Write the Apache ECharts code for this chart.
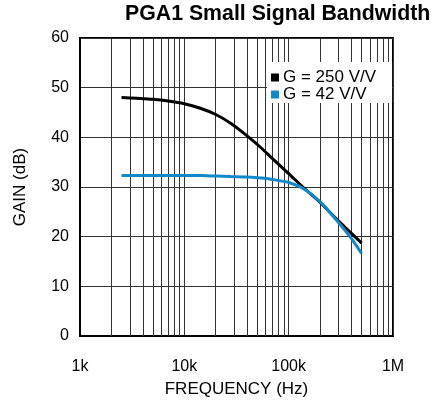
<!DOCTYPE html>
<html>
<head>
<meta charset="utf-8">
<script src="https://cdn.jsdelivr.net/npm/echarts@6/dist/echarts.min.js"></script>
<style>
html,body{margin:0;padding:0;background:#fff;}
#chart{width:435px;height:403px;}
</style>
</head>
<body>
<div id="chart"></div>
<script>
// Frequencies (Hz)
var freq = [2500, 3500, 5000, 7000, 10000, 14000, 20000, 28000, 40000, 55000, 70000, 100000, 140000, 200000, 280000, 400000, 500000];
// Gain (dB) for G = 250 V/V
var gain250 = [48.0, 47.85, 47.65, 47.3, 46.75, 45.9, 44.6, 42.8, 40.3, 37.8, 35.7, 32.7, 29.8, 26.9, 23.8, 20.65, 18.7];
// Gain (dB) for G = 42 V/V
var gain42 = [32.3, 32.3, 32.3, 32.3, 32.3, 32.3, 32.2, 32.1, 32.0, 31.8, 31.5, 30.9, 29.6, 27.0, 23.6, 19.6, 16.6];
var seriesNames = ['G = 250 V/V', 'G = 42 V/V'];
var xTickValues = [1000, 10000, 100000, 1000000];
var xTickLabels = ['1k', '10k', '100k', '1M'];
var yTicks = [0, 10, 20, 30, 40, 50, 60];

// minor log gridlines 2..9 in each decade
var minorLines = [];
for (var d = 1000; d < 1000000; d *= 10) {
  for (var m = 2; m <= 9; m++) minorLines.push({ xAxis: m * d });
}

function pairs(xs, ys) { return xs.map(function (x, i) { return [x, ys[i]]; }); }

var FONT = '"Liberation Sans", Arial, Helvetica, sans-serif';
var chart = echarts.init(document.getElementById('chart'), null, { renderer: 'canvas' });
chart.setOption({
  animation: false,
  backgroundColor: '#fff',
  title: {
    text: 'PGA1 Small Signal Bandwidth',
    left: 125, top: 4, padding: 0,
    textStyle: { fontFamily: FONT, fontSize: 21.3, fontWeight: 'bold', color: '#000' }
  },
  legend: {
    data: seriesNames,
    orient: 'vertical',
    left: 267, top: 62,
    padding: [7, 16, 0, 4],
    itemGap: 0,
    itemWidth: 8, itemHeight: 8,
    icon: 'rect',
    backgroundColor: '#fff',
    textStyle: { fontFamily: FONT, fontSize: 17, color: '#000', lineHeight: 15, padding: [0, 0, 0, -1] },
    z: 10
  },
  grid: {
    left: 80, right: 42, top: 38, bottom: 66,
    show: true, borderColor: '#000', borderWidth: 2
  },
  xAxis: {
    type: 'log', logBase: 10, min: 1000, max: 1000000,
    name: 'FREQUENCY (Hz)', nameLocation: 'middle', nameGap: 45,
    nameTextStyle: { fontFamily: FONT, fontSize: 17, color: '#000' },
    axisLine: { show: true, lineStyle: { color: '#000', width: 2 } },
    axisTick: { show: false },
    axisLabel: {
      fontFamily: FONT, fontSize: 16, color: '#000', margin: 23,
      formatter: function (v) {
        var i = xTickValues.indexOf(Math.round(v));
        return i >= 0 ? xTickLabels[i] : '';
      }
    },
    splitLine: { show: true, lineStyle: { color: '#333', width: 1 } }
  },
  yAxis: {
    type: 'value', min: yTicks[0], max: yTicks[yTicks.length - 1], interval: 10,
    name: 'GAIN (dB)', nameLocation: 'middle', nameGap: 51,
    nameTextStyle: { fontFamily: FONT, fontSize: 17, color: '#000' },
    axisLine: { show: true, lineStyle: { color: '#000', width: 2 } },
    axisTick: { show: false },
    axisLabel: { fontFamily: FONT, fontSize: 16, color: '#000', margin: 11 },
    splitLine: { show: true, lineStyle: { color: '#333', width: 1 } }
  },
  series: [
    {
      name: 'gridMinor', type: 'line', data: [], z: 1, silent: true,
      markLine: {
        silent: true, symbol: 'none', animation: false,
        label: { show: false },
        lineStyle: { color: '#333', width: 1, type: 'solid' },
        emphasis: { disabled: true },
        data: minorLines
      }
    },
    {
      name: seriesNames[0], type: 'line', z: 5,
      data: pairs(freq, gain250),
      smooth: 0.3, showSymbol: false, symbol: 'none',
      itemStyle: { color: '#000' },
      lineStyle: { color: '#000', width: 3 }
    },
    {
      name: seriesNames[1], type: 'line', z: 6,
      data: pairs(freq, gain42),
      smooth: 0.3, showSymbol: false, symbol: 'none',
      itemStyle: { color: '#1188c8' },
      lineStyle: { color: '#1188c8', width: 3 }
    }
  ]
});
</script>
</body>
</html>
